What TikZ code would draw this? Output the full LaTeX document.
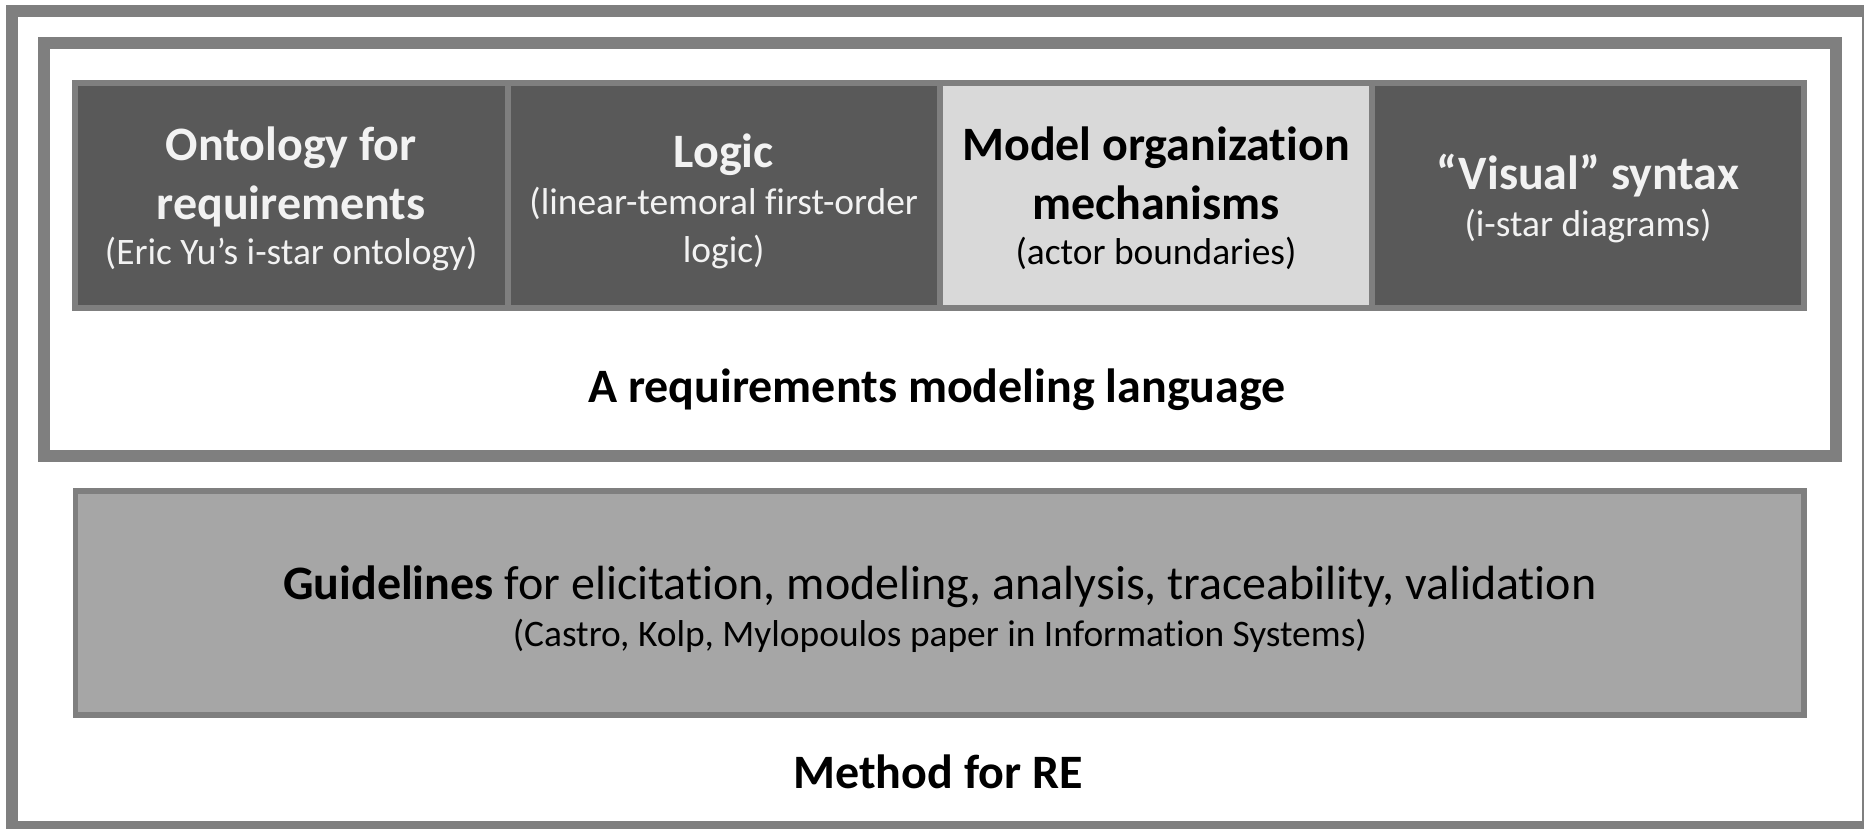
\documentclass[tikz,border=0pt]{standalone}
\usepackage{fontspec}
\setmainfont{Carlito}[Ligatures=NoCommon]
\definecolor{framegray}{HTML}{7F7F7F}
\definecolor{darkfill}{HTML}{595959}
\definecolor{lightfill}{HTML}{D9D9D9}
\definecolor{midfill}{HTML}{A6A6A6}
\definecolor{softwhite}{HTML}{F2F2F2}
\begin{document}
\begin{tikzpicture}[x=1pt,y=-1pt,
  frame/.style={draw=framegray,line width=12pt},
  topbox/.style={draw=framegray,line width=6pt,minimum width=432.5pt,minimum height=224.5pt,inner sep=0pt},
  darkbox/.style={topbox,fill=darkfill},
  lightbox/.style={topbox,fill=lightfill},
  ttl/.style={font=\fontsize{48}{58}\selectfont\bfseries,inner sep=0pt,anchor=base},
  sub/.style={font=\fontsize{37.4}{46}\selectfont,inner sep=0pt,anchor=base},
  wt/.style={text=softwhite}
]
\useasboundingbox (0,0) rectangle (1864,829);
\fill[white] (0,0) rectangle (1864,829);
\draw[frame] (12,11) rectangle (1868,827);
\draw[frame] (44,43) rectangle (1836,456);

\node[darkbox] (ont) at (291.25,195.25) {};
\node[darkbox] (logic) at (723.75,195.25) {};
\node[lightbox] (model) at (1156,195.25) {};
\node[darkbox] (visual) at (1588,195.25) {};

\node[ttl,wt] (ont1) at (291.25,161) {Ontology for};
\node[ttl,wt] (ont2) at (291.25,219.5) {requirements};
\node[sub,wt] (ont3) at (291.25,265) {(Eric Yu’s i-star ontology)};

\node[ttl,wt] (log1) at (723.75,168) {Logic};
\node[sub,wt] (log2) at (723.75,215) {(linear-temoral first-order};
\node[sub,wt] (log3) at (723.75,262) {logic)};

\node[ttl] (mod1) at (1156,161) {Model organization};
\node[ttl] (mod2) at (1156,219.5) {mechanisms};
\node[sub] (mod3) at (1156,265) {(actor boundaries)};

\node[ttl,wt] (vis1) at (1588,190) {“Visual” syntax};
\node[sub,wt] (vis2) at (1588,237) {(i-star diagrams)};

\node[ttl] (lang) at (937,402.5) {A requirements modeling language};

\node[draw=framegray,fill=midfill,line width=5.5pt,minimum width=1728.3pt,minimum height=223.8pt,inner sep=0pt] (guide) at (939.85,602.9) {};
\node[sub,font=\fontsize{48}{58}\selectfont] (guide1) at (939.85,599) {\textbf{Guidelines} for elicitation, modeling, analysis, traceability, validation};
\node[sub] (guide2) at (939.85,646) {(Castro, Kolp, Mylopoulos paper in Information Systems)};

\node[ttl] (method) at (938,788) {Method for RE};
\end{tikzpicture}
\end{document}
